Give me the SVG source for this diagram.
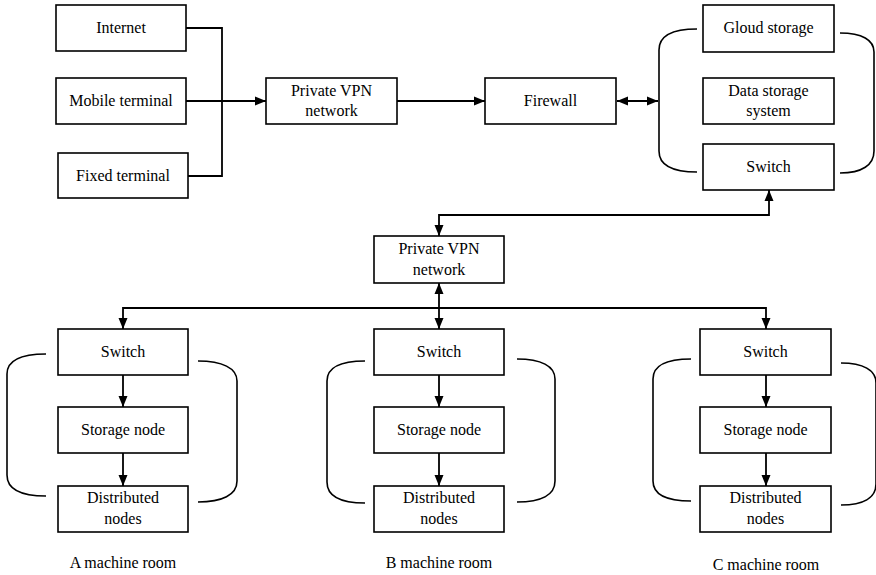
<svg xmlns="http://www.w3.org/2000/svg" width="876" height="575" viewBox="0 0 876 575">
  <defs>
    <marker id="arr" markerUnits="userSpaceOnUse" markerWidth="12" markerHeight="10" refX="11" refY="5" orient="auto-start-reverse">
      <path d="M0,0.5 L11,5 L0,9.5 Z" fill="#000"/>
    </marker>
  </defs>
  <style>
    .box { fill: #fff; stroke: #000; stroke-width: 1.6; }
    .wire { fill: none; stroke: #000; stroke-width: 1.8; }
    .brk { fill: none; stroke: #000; stroke-width: 1.6; }
  </style>
  <rect width="876" height="575" fill="#fff"/>

  <!-- connectors -->
  <g id="connectors">
    <path class="wire" d="M186,28 H222 V176 H188"/>
    <path class="wire" d="M186,101 H266" marker-end="url(#arr)"/>
    <path class="wire" d="M397,101 H485" marker-end="url(#arr)"/>
    <path class="wire" d="M617,101 H658" marker-start="url(#arr)" marker-end="url(#arr)"/>
    <path class="wire" d="M439,236 V215 H769 V190" marker-start="url(#arr)" marker-end="url(#arr)"/>
    <path class="wire" d="M439,283 V329" marker-start="url(#arr)" marker-end="url(#arr)"/>
    <path class="wire" d="M123,329 V308 H766 V329" marker-start="url(#arr)" marker-end="url(#arr)"/>
    <path class="wire" d="M123,375 V407" marker-end="url(#arr)"/>
    <path class="wire" d="M123,453 V486" marker-end="url(#arr)"/>
    <path class="wire" d="M439,375 V407" marker-end="url(#arr)"/>
    <path class="wire" d="M439,453 V486" marker-end="url(#arr)"/>
    <path class="wire" d="M766,375 V407" marker-end="url(#arr)"/>
    <path class="wire" d="M766,453 V486" marker-end="url(#arr)"/>
  </g>

  <!-- brackets -->
  <g id="brackets">
    <path class="brk" d="M697,29 C672,29 659,36 659,50 V151 C659,165 672,172 697,172"/>
    <path class="brk" d="M840,33 C862,33 874,40 874,52 V151 C874,165 862,173 840,173"/>
    <path class="brk" d="M46,354 C20,354 7,361 7,374 V475 C7,489 20,496 46,496"/>
    <path class="brk" d="M198,361 C222,361 237,368 237,381 V481 C237,495 222,502 198,502"/>
    <path class="brk" d="M365,361 C340,361 327,368 327,381 V482 C327,496 340,503 365,503"/>
    <path class="brk" d="M517,359 C541,359 555,366 555,379 V481 C555,495 541,502 517,502"/>
    <path class="brk" d="M691,359 C666,359 653,366 653,379 V481 C653,495 666,501 691,501"/>
    <path class="brk" d="M841,363 C863,363 876,370 876,383 V484 C876,498 863,505 841,505"/>
  </g>

  <g font-family="Liberation Serif, DejaVu Serif, serif" font-size="16" text-anchor="middle" fill="#000">
    <g id="internet"><rect class="box" x="56" y="5" width="130" height="46"/><text x="121" y="33">Internet</text></g>
    <g id="mobile-terminal"><rect class="box" x="56" y="78" width="130" height="46"/><text x="121" y="106">Mobile terminal</text></g>
    <g id="fixed-terminal"><rect class="box" x="58" y="153" width="130" height="45"/><text x="123" y="181">Fixed terminal</text></g>
    <g id="vpn-top"><rect class="box" x="266" y="78" width="131" height="46"/><text x="331.5" y="96">Private VPN</text><text x="331.5" y="116">network</text></g>
    <g id="firewall"><rect class="box" x="485" y="78" width="131" height="46"/><text x="550.5" y="106">Firewall</text></g>
    <g id="cloud-storage"><rect class="box" x="703" y="5" width="131" height="47"/><text x="768.5" y="33">Gloud storage</text></g>
    <g id="data-storage"><rect class="box" x="703" y="78" width="131" height="46"/><text x="768.5" y="96">Data storage</text><text x="768.5" y="116">system</text></g>
    <g id="switch-top"><rect class="box" x="703" y="144" width="131" height="46"/><text x="768.5" y="172">Switch</text></g>
    <g id="vpn-mid"><rect class="box" x="374" y="236" width="130" height="47"/><text x="439" y="254">Private VPN</text><text x="439" y="275">network</text></g>

    <g id="switch-a"><rect class="box" x="58" y="329" width="130" height="46"/><text x="123" y="357">Switch</text></g>
    <g id="storage-a"><rect class="box" x="58" y="407" width="130" height="46"/><text x="123" y="435">Storage node</text></g>
    <g id="dist-a"><rect class="box" x="58" y="486" width="130" height="46"/><text x="123" y="503">Distributed</text><text x="123" y="524">nodes</text></g>
    <text x="123" y="568">A machine room</text>

    <g id="switch-b"><rect class="box" x="374" y="329" width="130" height="46"/><text x="439" y="357">Switch</text></g>
    <g id="storage-b"><rect class="box" x="374" y="407" width="130" height="46"/><text x="439" y="435">Storage node</text></g>
    <g id="dist-b"><rect class="box" x="374" y="486" width="130" height="46"/><text x="439" y="503">Distributed</text><text x="439" y="524">nodes</text></g>
    <text x="439" y="568">B machine room</text>

    <g id="switch-c"><rect class="box" x="700" y="329" width="131" height="46"/><text x="765.5" y="357">Switch</text></g>
    <g id="storage-c"><rect class="box" x="700" y="407" width="131" height="46"/><text x="765.5" y="435">Storage node</text></g>
    <g id="dist-c"><rect class="box" x="700" y="486" width="131" height="46"/><text x="765.5" y="503">Distributed</text><text x="765.5" y="524">nodes</text></g>
    <text x="766" y="570">C machine room</text>
  </g>
</svg>
